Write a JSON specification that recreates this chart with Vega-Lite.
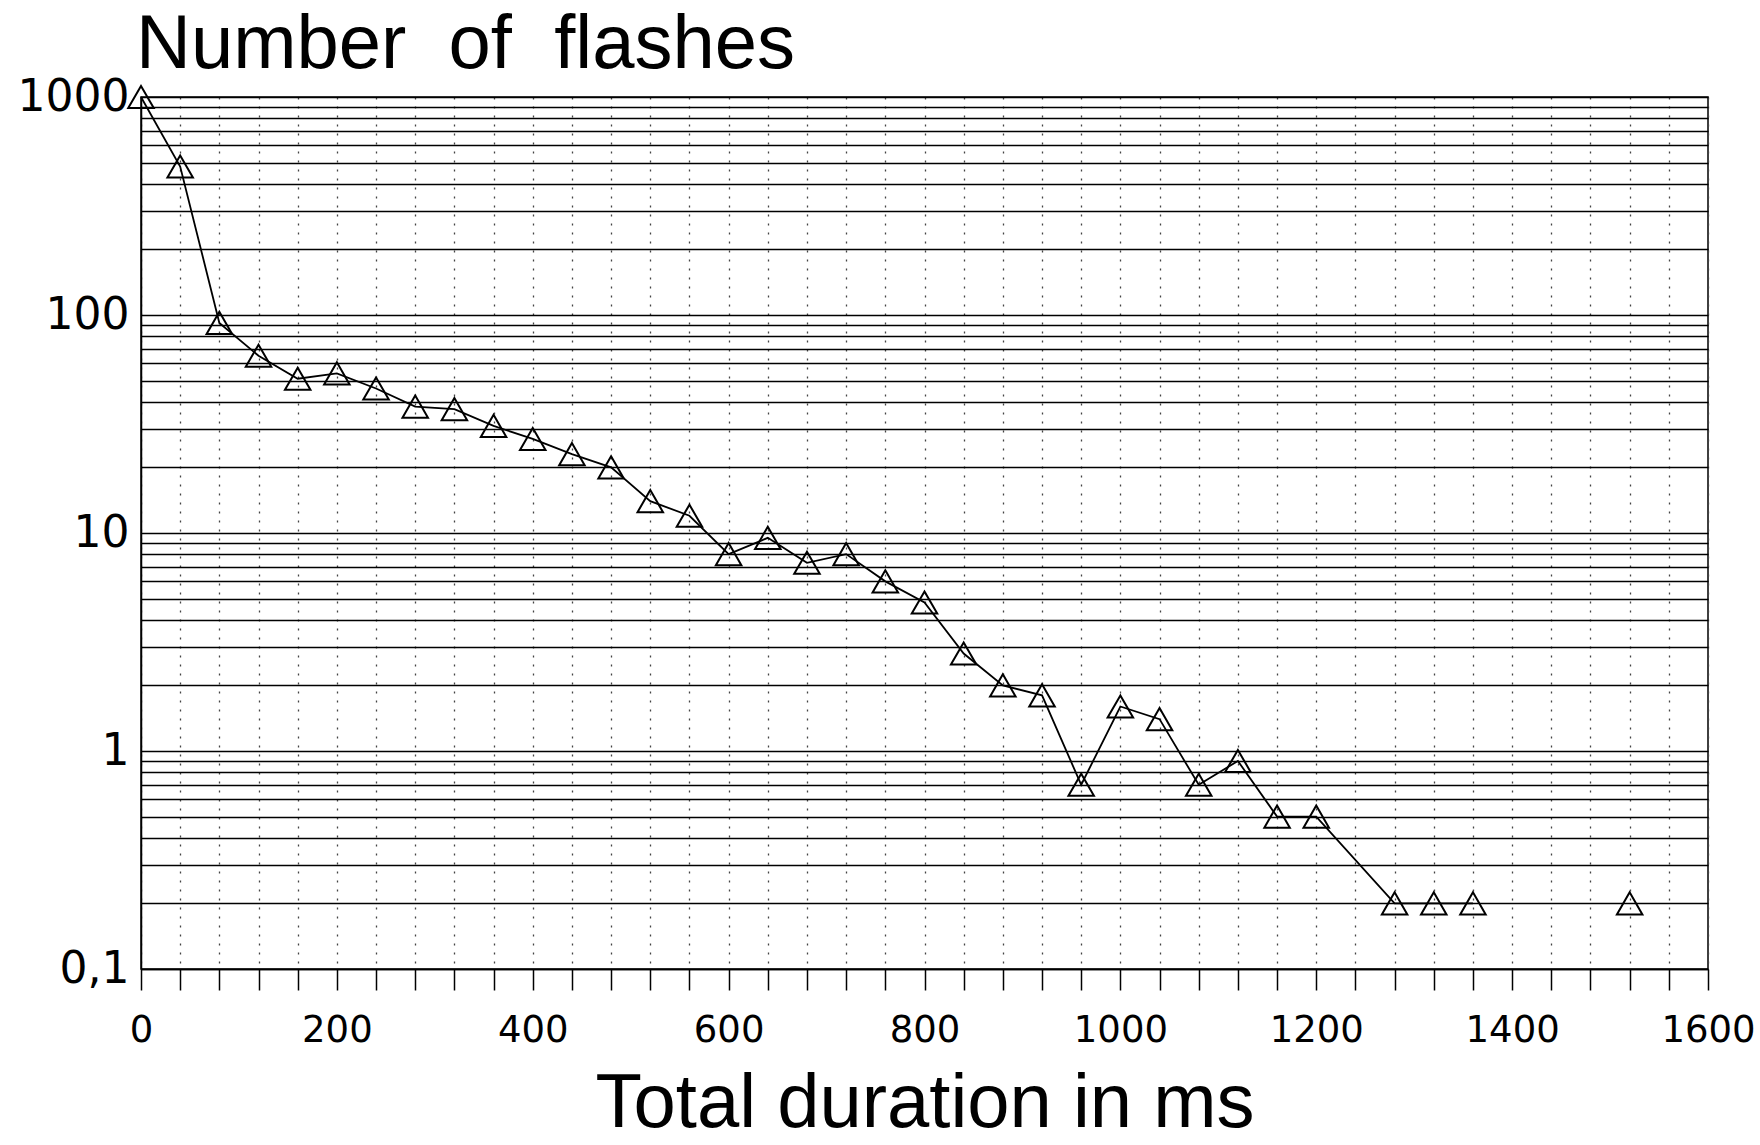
{
  "$schema": "https://vega.github.io/schema/vega-lite/v6.json",
  "width": 1567,
  "height": 872,
  "autosize": {"type": "none"},
  "padding": {"left": 141, "top": 97, "right": 52, "bottom": 176},
  "background": "white",
  "title": {
    "text": "Number\u00a0\u00a0of\u00a0\u00a0flashes",
    "anchor": "start",
    "frame": "group",
    "orient": "top",
    "baseline": "alphabetic",
    "offset": -69,
    "dx": -5,
    "font": "Liberation Sans",
    "fontSize": 76,
    "fontWeight": "normal",
    "color": "black"
  },
  "data": {
    "values": [
      {"t": 0, "n": 1000},
      {"t": 40, "n": 480},
      {"t": 80, "n": 92},
      {"t": 120, "n": 65},
      {"t": 160, "n": 51},
      {"t": 200, "n": 54},
      {"t": 240, "n": 46},
      {"t": 280, "n": 38},
      {"t": 320, "n": 37},
      {"t": 360, "n": 31},
      {"t": 400, "n": 27},
      {"t": 440, "n": 23},
      {"t": 480, "n": 20},
      {"t": 520, "n": 14},
      {"t": 560, "n": 12},
      {"t": 600, "n": 8},
      {"t": 640, "n": 9.5},
      {"t": 680, "n": 7.3},
      {"t": 720, "n": 8},
      {"t": 760, "n": 6},
      {"t": 800, "n": 4.8},
      {"t": 840, "n": 2.8},
      {"t": 880, "n": 2},
      {"t": 920, "n": 1.8},
      {"t": 960, "n": 0.7},
      {"t": 1000, "n": 1.6},
      {"t": 1040, "n": 1.4},
      {"t": 1080, "n": 0.7},
      {"t": 1120, "n": 0.9},
      {"t": 1160, "n": 0.5},
      {"t": 1200, "n": 0.5},
      {"t": 1280, "n": 0.2},
      {"t": 1320, "n": 0.2},
      {"t": 1360, "n": 0.2},
      {"t": 1520, "n": 0.2}
    ]
  },
  "encoding": {
    "x": {
      "field": "t",
      "type": "quantitative",
      "scale": {"domain": [0, 1600], "nice": false, "zero": false},
      "axis": {
        "title": "Total duration in ms",
        "titleFont": "Liberation Sans",
        "titleFontSize": 76,
        "titleFontWeight": "normal",
        "titleColor": "black",
        "titleBaseline": "alphabetic",
        "titleY": 157,
        "titleX": 783.5,
        "titleAlign": "center",
        "values": [0,40,80,120,160,200,240,280,320,360,400,440,480,520,560,600,640,680,720,760,800,840,880,920,960,1000,1040,1080,1120,1160,1200,1240,1280,1320,1360,1400,1440,1480,1520,1560,1600],
        "format": "d",
        "labelExpr": "datum.value % 200 == 0 ? datum.label : ''",
        "labelFont": "DejaVu Sans",
        "labelFontSize": 37,
        "labelColor": "black",
        "labelPadding": 22,
        "labelOverlap": false,
        "labelFlush": false,
        "labelBound": false,
        "tickSize": 21,
        "tickColor": "black",
        "tickWidth": 1.5,
        "domain": true,
        "domainColor": "black",
        "domainWidth": 1.5,
        "grid": true,
        "gridColor": "#444444",
        "gridWidth": 1.3,
        "gridDash": [2, 7]
      }
    },
    "y": {
      "field": "n",
      "type": "quantitative",
      "scale": {"type": "log", "domain": [0.1, 1000], "nice": false},
      "axis": {
        "title": null,
        "values": [0.1,0.2,0.3,0.4,0.5,0.6,0.7,0.8,0.9,1,2,3,4,5,6,7,8,9,10,20,30,40,50,60,70,80,90,100,200,300,400,500,600,700,800,900,1000],
        "labelExpr": "datum.value == 0.1 ? '0,1' : datum.value == 1 ? '1' : datum.value == 10 ? '10' : datum.value == 100 ? '100' : datum.value == 1000 ? '1000' : ''",
        "labelFont": "DejaVu Sans",
        "labelFontSize": 44,
        "labelColor": "black",
        "labelPadding": 12,
        "labelOverlap": false,
        "labelFlush": false,
        "labelBound": false,
        "ticks": false,
        "domain": true,
        "domainColor": "black",
        "domainWidth": 1.5,
        "grid": true,
        "gridColor": "black",
        "gridWidth": 1.7
      }
    }
  },
  "layer": [
    {
      "transform": [{"filter": "datum.t <= 1360"}],
      "mark": {"type": "line", "color": "black", "strokeWidth": 1.8}
    },
    {
      "mark": {
        "type": "point",
        "shape": "triangle-up",
        "filled": false,
        "stroke": "black",
        "strokeWidth": 2,
        "size": 650,
        "opacity": 1
      }
    }
  ],
  "config": {
    "view": {"stroke": "black", "strokeWidth": 1.5}
  }
}
